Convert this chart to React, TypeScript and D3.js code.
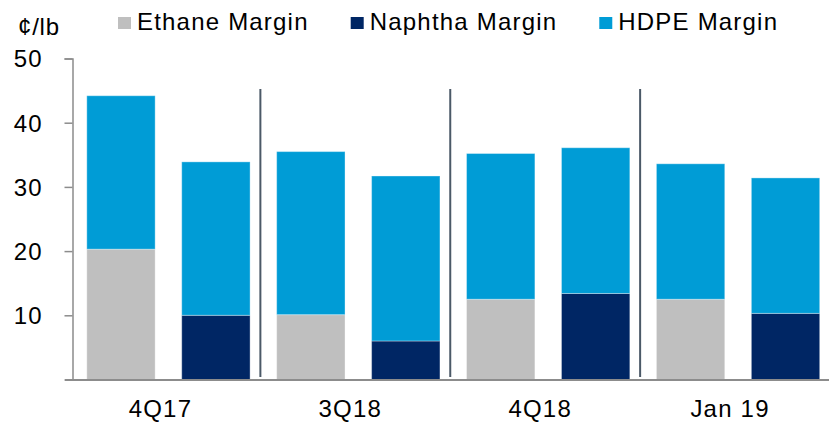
import React, { useEffect, useRef } from "react";
import * as d3 from "d3";

// periods, two bars per period (ethane-based, naphtha-based)
const periods = ["4Q17", "3Q18", "4Q18", "Jan 19"];
const feedstocks = ["Ethane", "Naphtha"];
// feedstock margin (bottom segment) and HDPE margin (top segment), ¢/lb
const ethaneMargin = [20.3, 10.1, 12.5, 12.5];
const naphthaMargin = [10.0, 6.0, 13.4, 10.3];
const hdpeOnEthane = [23.9, 25.4, 22.7, 21.1];
const hdpeOnNaphtha = [23.9, 25.7, 22.7, 21.1];
const yTicks = [10, 20, 30, 40, 50];
const legendLabels = ["Ethane Margin", "Naphtha Margin", "HDPE Margin"];

const colorEthane = "#bfbfbf";
const colorNaphtha = "#002664";
const colorHdpe = "#009cd6";
const colorAxis = "#8c8c8c";
const colorSeparator = "#4b5967";
const fontFamily = "'Liberation Sans', Arial, sans-serif";
const fontSize = "24px";

const App = () => {
    const svgRef = useRef<SVGSVGElement>(null);

    useEffect(() => {
        const svg = d3.select(svgRef.current);
        svg.selectAll("*").remove();

        const width = 829;
        const height = 423;
        svg.attr("width", width).attr("height", height);

        // build bar rows from the arrays
        const bars: { key: string; period: number; base: number; hdpe: number; baseColor: string }[] = [];
        periods.forEach((p, i) => {
            bars.push({ key: p + "-E", period: i, base: ethaneMargin[i], hdpe: hdpeOnEthane[i], baseColor: colorEthane });
            bars.push({ key: p + "-N", period: i, base: naphthaMargin[i], hdpe: hdpeOnNaphtha[i], baseColor: colorNaphtha });
        });

        const x = d3
            .scaleBand()
            .domain(bars.map((d) => d.key))
            .range([73.5, 833])
            .paddingInner(0.28)
            .paddingOuter(0.14);

        const y = d3.scaleLinear().domain([0, 50]).range([379.5, 58.5]);

        const g = svg.append("g");

        // bottom segments
        g.selectAll("rect.base")
            .data(bars)
            .enter()
            .append("rect")
            .attr("class", "base")
            .attr("x", (d) => x(d.key)!)
            .attr("width", x.bandwidth())
            .attr("y", (d) => y(d.base))
            .attr("height", (d) => y(0) - y(d.base))
            .attr("fill", (d) => d.baseColor)
            .attr("stroke", "rgba(255,255,255,0.35)")
            .attr("stroke-width", 1);

        // HDPE segments
        g.selectAll("rect.hdpe")
            .data(bars)
            .enter()
            .append("rect")
            .attr("class", "hdpe")
            .attr("x", (d) => x(d.key)!)
            .attr("width", x.bandwidth())
            .attr("y", (d) => y(d.base + d.hdpe))
            .attr("height", (d) => y(d.base) - y(d.base + d.hdpe))
            .attr("fill", colorHdpe)
            .attr("stroke", "rgba(255,255,255,0.35)")
            .attr("stroke-width", 1);

        // separators between periods
        const gap = x.step() * x.paddingInner();
        periods.slice(1).forEach((p) => {
            const sx = x(p + "-" + feedstocks[0][0])! - gap / 2 - 3;
            g.append("line")
                .attr("x1", sx)
                .attr("x2", sx)
                .attr("y1", 89)
                .attr("y2", 377)
                .attr("stroke", colorSeparator)
                .attr("stroke-width", 2);
        });

        // y axis
        const yAxis = svg
            .append("g")
            .attr("transform", "translate(72.5,0)")
            .call(
                d3
                    .axisLeft(y)
                    .tickValues(yTicks)
                    .tickSize(8)
                    .tickSizeOuter(8)
                    .tickPadding(22)
            );
        yAxis.select(".domain").attr("stroke", colorAxis).attr("stroke-width", 1.5);
        yAxis.selectAll(".tick line").attr("stroke", colorAxis).attr("stroke-width", 1.5);
        yAxis
            .selectAll(".tick text")
            .attr("fill", "#000")
            .attr("dy", "0.35em")
            .style("font-family", fontFamily)
            .style("font-size", fontSize)
            .style("letter-spacing", "1px");

        // x axis baseline
        svg.append("line")
            .attr("x1", 65)
            .attr("x2", 829)
            .attr("y1", y(0) + 0.5)
            .attr("y2", y(0) + 0.5)
            .attr("stroke", colorAxis)
            .attr("stroke-width", 2);

        // period labels
        periods.forEach((p) => {
            const x0 = x(p + "-E")!;
            const x1 = x(p + "-N")! + x.bandwidth();
            svg.append("text")
                .attr("x", (x0 + x1) / 2 - 8)
                .attr("y", 417)
                .attr("text-anchor", "middle")
                .style("font-family", fontFamily)
                .style("font-size", fontSize)
                .style("letter-spacing", "1.2px")
                .text(p);
        });

        // unit label
        svg.append("text")
            .attr("x", 18)
            .attr("y", 35)
            .style("font-family", fontFamily)
            .style("font-size", fontSize)
            .style("letter-spacing", "0.8px")
            .text("¢/lb");

        // legend
        const legendColors = [colorEthane, colorNaphtha, colorHdpe];
        let lx = 118;
        legendLabels.forEach((label, i) => {
            svg.append("rect")
                .attr("x", lx)
                .attr("y", 17)
                .attr("width", 13)
                .attr("height", 12)
                .attr("fill", legendColors[i]);
            const t = svg
                .append("text")
                .attr("x", lx + 19)
                .attr("y", 30)
                .style("font-family", fontFamily)
                .style("font-size", fontSize)
                .style("letter-spacing", "1.2px")
                .text(label);
            const w = (t.node() as SVGTextElement).getComputedTextLength();
            lx = lx + 19 + w + 42;
        });
    }, []);

    return (
        <svg
            ref={svgRef}
            style={{ position: "absolute", left: 0, top: 0, display: "block", background: "#fff" }}
        ></svg>
    );
};

export default App;
